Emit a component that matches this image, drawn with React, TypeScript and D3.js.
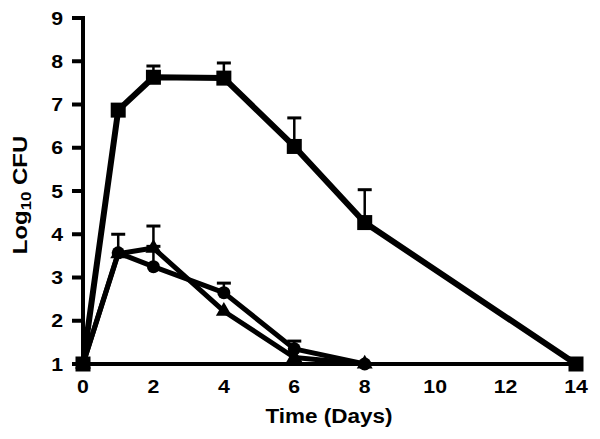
import { useEffect, useRef } from 'react';
import * as d3 from 'd3';

// days sampled
const squareDays = [0, 1, 2, 4, 6, 8, 14];
const squareVals = [1.0, 6.87, 7.63, 7.61, 6.03, 4.27, 1.0];
const squareErr = [0, 0, 0.26, 0.35, 0.66, 0.76, 0];

const lowDays = [0, 1, 2, 4, 6, 8];
const circleVals = [1.0, 3.57, 3.25, 2.65, 1.35, 1.0];
const circleErr = [0, 0.43, 0.47, 0.22, 0.18, 0];
const triangleVals = [1.0, 3.55, 3.68, 2.22, 1.15, 1.0];
const triangleErr = [0, 0, 0.51, 0, 0, 0];

const xTicks = [0, 2, 4, 6, 8, 10, 12, 14];
const yTicks = [1, 2, 3, 4, 5, 6, 7, 8, 9];

type Pt = { x: number; y: number; e: number };

const App = () => {
  const svgRef = useRef<SVGSVGElement>(null);

  useEffect(() => {
    if (!svgRef.current) return;
    const svg = d3.select(svgRef.current);
    svg.selectAll('*').remove();

    const font = 'Liberation Sans, Arial, sans-serif';

    const xScale = d3.scaleLinear().domain([0, 14]).range([83, 576]);
    const yScale = d3.scaleLinear().domain([1, 9]).range([364, 18]);

    const toPts = (days: number[], vals: number[], err: number[]): Pt[] =>
      days.map((d, i) => ({ x: d, y: vals[i], e: err[i] }));

    const squares = toPts(squareDays, squareVals, squareErr);
    const circles = toPts(lowDays, circleVals, circleErr);
    const triangles = toPts(lowDays, triangleVals, triangleErr);

    const line = d3.line<Pt>()
      .x(d => xScale(d.x))
      .y(d => yScale(d.y));

    // error bars (upper only)
    const drawErr = (pts: Pt[]) => {
      const g = svg.append('g');
      pts.filter(d => d.e > 0).forEach(d => {
        const cx = xScale(d.x);
        const top = yScale(d.y + d.e);
        g.append('line')
          .attr('x1', cx).attr('x2', cx)
          .attr('y1', yScale(d.y)).attr('y2', top)
          .attr('stroke', '#000').attr('stroke-width', 2.5);
        g.append('line')
          .attr('x1', cx - 7).attr('x2', cx + 7)
          .attr('y1', top).attr('y2', top)
          .attr('stroke', '#000').attr('stroke-width', 3);
      });
    };

    drawErr(squares);
    drawErr(circles);
    drawErr(triangles);

    // lines
    [triangles, circles].forEach(pts => {
      svg.append('path')
        .datum(pts)
        .attr('fill', 'none')
        .attr('stroke', '#000')
        .attr('stroke-width', 5)
        .attr('stroke-linejoin', 'round')
        .attr('d', line);
    });

    svg.append('path')
      .datum(squares)
      .attr('fill', 'none')
      .attr('stroke', '#000')
      .attr('stroke-width', 6)
      .attr('stroke-linejoin', 'round')
      .attr('d', line);

    // markers
    svg.selectAll('.sq')
      .data(squares)
      .enter()
      .append('rect')
      .attr('x', d => xScale(d.x) - 7.5)
      .attr('y', d => yScale(d.y) - 7.5)
      .attr('width', 15)
      .attr('height', 15)
      .attr('fill', '#000');

    svg.selectAll('.ci')
      .data(circles)
      .enter()
      .append('circle')
      .attr('cx', d => xScale(d.x))
      .attr('cy', d => yScale(d.y))
      .attr('r', 6.5)
      .attr('fill', '#000');

    const tri = d3.symbol().type(d3.symbolTriangle).size(110);
    svg.selectAll('.tr')
      .data(triangles)
      .enter()
      .append('path')
      .attr('transform', d => `translate(${xScale(d.x)},${yScale(d.y)})`)
      .attr('d', tri)
      .attr('fill', '#000');

    // y axis
    svg.append('line')
      .attr('x1', 83).attr('x2', 83)
      .attr('y1', yScale(9) - 2).attr('y2', yScale(1) + 2)
      .attr('stroke', '#000').attr('stroke-width', 4);

    svg.selectAll('.ytick')
      .data(yTicks)
      .enter()
      .append('line')
      .attr('x1', 72).attr('x2', 83)
      .attr('y1', d => yScale(d)).attr('y2', d => yScale(d))
      .attr('stroke', '#000').attr('stroke-width', 4);

    svg.selectAll('.ylab')
      .data(yTicks)
      .enter()
      .append('text')
      .attr('transform', d => `translate(63,${yScale(d) + 6.5}) scale(1.15,1)`)
      .attr('text-anchor', 'end')
      .attr('font-family', font)
      .attr('font-weight', 'bold')
      .attr('font-size', 18.5)
      .text(d => d);

    // x axis
    svg.append('line')
      .attr('x1', 72).attr('x2', 579)
      .attr('y1', yScale(1)).attr('y2', yScale(1))
      .attr('stroke', '#000').attr('stroke-width', 4);

    svg.selectAll('.xlab')
      .data(xTicks)
      .enter()
      .append('text')
      .attr('transform', d => `translate(${xScale(d)},393) scale(1.15,1)`)
      .attr('text-anchor', 'middle')
      .attr('font-family', font)
      .attr('font-weight', 'bold')
      .attr('font-size', 18.5)
      .text(d => d);

    svg.append('text')
      .attr('x', 329)
      .attr('y', 423)
      .attr('text-anchor', 'middle')
      .attr('font-family', font)
      .attr('font-weight', 'bold')
      .attr('font-size', 20)
      .attr('textLength', 127)
      .attr('lengthAdjust', 'spacingAndGlyphs')
      .text('Time (Days)');

    const ylab = svg.append('text')
      .attr('transform', 'translate(27,195) rotate(-90) scale(1.2,1)')
      .attr('text-anchor', 'middle')
      .attr('font-family', font)
      .attr('font-weight', 'bold')
      .attr('font-size', 20);
    ylab.append('tspan').text('Log');
    ylab.append('tspan').attr('font-size', 14).attr('dy', 4).text('10');
    ylab.append('tspan').attr('dy', -4).text(' CFU');
  }, []);

  return (
    <div style={{ position: 'fixed', left: 0, top: 0, width: 600, height: 439, background: '#fff' }}>
      <svg ref={svgRef} width={600} height={439}></svg>
    </div>
  );
};

export default App;
